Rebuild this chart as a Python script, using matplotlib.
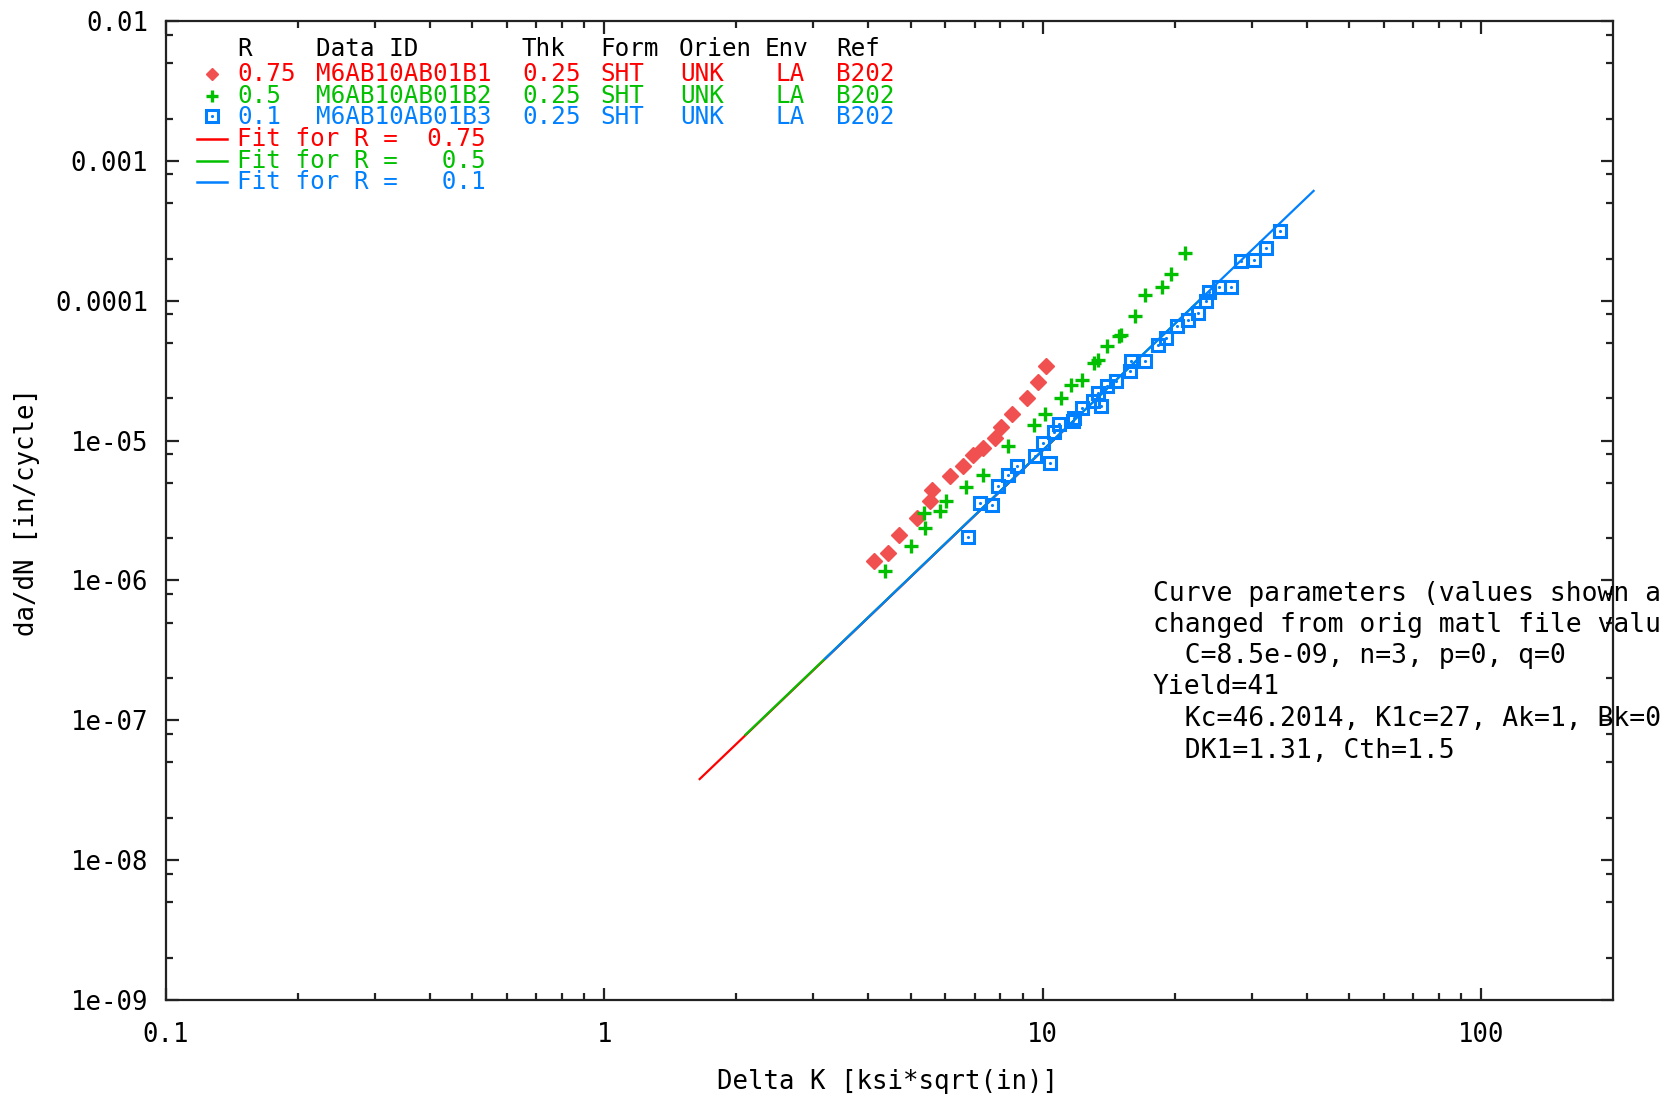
import numpy as np
import matplotlib.pyplot as plt
from matplotlib.ticker import FixedLocator, FixedFormatter, NullFormatter

plt.rcParams['font.family'] = ['DejaVu Sans Mono']

# colours (gnuplot defaults)
red = '#ff0000'
green = '#00c000'
blue = '#0080ff'

# data: Delta K [ksi*sqrt(in)], da/dN [in/cycle]
dk_r075 = [4.12, 4.44, 4.69, 5.16, 5.52, 5.59, 6.15, 6.59, 6.95, 7.30, 7.79, 8.03, 8.49, 9.19, 9.77, 10.17]
da_r075 = [1.37e-6, 1.57e-6, 2.12e-6, 2.80e-6, 3.67e-6, 4.41e-6, 5.55e-6, 6.54e-6, 7.93e-6, 8.85e-6,
           1.04e-5, 1.25e-5, 1.56e-5, 2.02e-5, 2.61e-5, 3.39e-5]

dk_r05 = [4.37, 5.01, 5.39, 5.35, 5.84, 6.02, 6.69, 7.30, 8.35, 9.57, 10.1, 10.99, 11.6, 12.3, 13.1, 13.4,
          14.0, 14.9, 15.1, 16.2, 17.1, 18.7, 19.6, 21.1]
da_r05 = [1.16e-6, 1.77e-6, 2.37e-6, 3.04e-6, 3.12e-6, 3.72e-6, 4.62e-6, 5.70e-6, 9.20e-6, 1.30e-5, 1.56e-5,
          2.02e-5, 2.51e-5, 2.72e-5, 3.59e-5, 3.74e-5, 4.71e-5, 5.55e-5, 5.71e-5, 7.73e-5, 1.09e-4, 1.25e-4,
          1.54e-4, 2.19e-4]

dk_r01 = [6.77, 7.20, 7.65, 7.92, 8.35, 8.72, 9.60, 10.0, 10.4, 10.6, 10.9, 11.7, 11.8, 12.3, 13.0, 13.6,
          13.4, 14.0, 14.7, 15.8, 15.9, 17.1, 18.3, 19.1, 20.3, 21.4, 22.6, 23.6, 24.0, 25.3, 26.9, 28.4,
          30.4, 32.4, 34.7]
da_r01 = [2.03e-6, 3.58e-6, 3.44e-6, 4.71e-6, 5.70e-6, 6.54e-6, 7.80e-6, 9.62e-6, 6.92e-6, 1.16e-5, 1.32e-5,
          1.37e-5, 1.45e-5, 1.71e-5, 1.91e-5, 1.78e-5, 2.19e-5, 2.44e-5, 2.65e-5, 3.12e-5, 3.68e-5, 3.73e-5,
          4.85e-5, 5.41e-5, 6.55e-5, 7.31e-5, 8.17e-5, 9.88e-5, 1.16e-4, 1.26e-4, 1.26e-4, 1.91e-4, 1.96e-4,
          2.38e-4, 3.13e-4]

# fit line end points
fit_dk_r075 = [1.65, 11.5]
fit_da_r075 = [3.8e-8, 1.29e-5]
fit_dk_r05 = [2.1, 23.1]
fit_da_r05 = [7.9e-8, 1.05e-4]
fit_dk_r01 = [3.19, 41.5]
fit_da_r01 = [2.76e-7, 6.1e-4]

xticks = [0.1, 1, 10, 100]
xticklabels = ['0.1', '1', '10', '100']
yticks = [1e-9, 1e-8, 1e-7, 1e-6, 1e-5, 1e-4, 1e-3, 1e-2]
yticklabels = ['1e-09', '1e-08', '1e-07', '1e-06', '1e-05', '0.0001', '0.001', '0.01']

legend_header = ['R', 'Data ID', 'Thk', 'Form', 'Orien', 'Env', 'Ref']
legend_rows = [
    ['0.75', 'M6AB10AB01B1', '0.25', 'SHT', 'UNK', 'LA', 'B202'],
    ['0.5', 'M6AB10AB01B2', '0.25', 'SHT', 'UNK', 'LA', 'B202'],
    ['0.1', 'M6AB10AB01B3', '0.25', 'SHT', 'UNK', 'LA', 'B202'],
]
fit_labels = ['Fit for R =  0.75', 'Fit for R =   0.5', 'Fit for R =   0.1']

params_text = ['Curve parameters (values shown are',
               'changed from orig matl file values)',
               '  C=8.5e-09, n=3, p=0, q=0',
               'Yield=41',
               '  Kc=46.2014, K1c=27, Ak=1, Bk=0',
               '  DK1=1.31, Cth=1.5']

W, H = 1660, 1094
fig = plt.figure(figsize=(W / 100, H / 100), dpi=100)
ax = fig.add_axes([166 / W, 1 - 1000 / H, (1613 - 166) / W, (1000 - 21) / H])
ax.set_xscale('log')
ax.set_yscale('log')
ax.set_xlim(0.1, 200)
ax.set_ylim(1e-9, 1e-2)


def px(x, y):
    return x / W, 1 - y / H


# fits (drawn in this order so blue is on top)
ax.plot(fit_dk_r075, fit_da_r075, color=red, lw=1.6)
ax.plot(fit_dk_r05, fit_da_r05, color=green, lw=1.6)
ax.plot(fit_dk_r01, fit_da_r01, color=blue, lw=1.6)

# data
ax.plot(dk_r075, da_r075, 'D', color='#f05050', ms=8, mec='#f05050', ls='none')
ax.plot(dk_r05, da_r05, '+', color=green, ms=10, mew=2.4, ls='none')
ax.plot(dk_r01, da_r01, 's', mfc='none', mec=blue, ms=9, mew=2.2, ls='none')
ax.plot(dk_r01, da_r01, '.', color=blue, ms=2.5, ls='none')

# axes styling
for s in ax.spines.values():
    s.set_linewidth(1.6)
    s.set_color('#222222')
ax.xaxis.set_major_locator(FixedLocator(xticks))
ax.xaxis.set_major_formatter(FixedFormatter(xticklabels))
ax.xaxis.set_minor_locator(FixedLocator([m * d for d in [0.1, 1, 10, 100] for m in range(2, 10)
                                         if m * d < 200]))
ax.xaxis.set_minor_formatter(NullFormatter())
ax.yaxis.set_major_locator(FixedLocator(yticks))
ax.yaxis.set_major_formatter(FixedFormatter(yticklabels))
ax.yaxis.set_minor_locator(FixedLocator([m * d for d in yticks[:-1] for m in (2, 5, 8)]))
ax.yaxis.set_minor_formatter(NullFormatter())
ax.tick_params(which='both', direction='in', top=True, right=True, color='#222222', width=1.6)
ax.tick_params(which='major', length=9)
ax.tick_params(which='minor', length=5)
ax.tick_params(axis='x', which='major', labelsize=18.5, pad=16)
ax.tick_params(axis='y', which='major', labelsize=18.5, pad=13)

fig.text(*px(887, 1082), 'Delta K [ksi*sqrt(in)]', fontsize=18.5, ha='center', va='center')
fig.text(*px(27, 512), 'da/dN [in/cycle]', fontsize=18.5, ha='center', va='center', rotation=90)

# legend, built by hand like gnuplot's key
fs_key = 17.5
col_x = [237, 315.5, 522, 600, 678.6, 765, 836.4]
row_col_x = [237, 315.5, 522, 600, 680.7, 775, 836.4]
for xx, t in zip(col_x, legend_header):
    fig.text(*px(xx, 48.7), t, fontsize=fs_key, ha='left', va='center', color='black')

row_y = [74.1, 96.3, 117.5]
row_colors = [red, green, blue]
for yy, c, row in zip(row_y, row_colors, legend_rows):
    for xx, t in zip(row_col_x, row):
        fig.text(*px(xx, yy), t, fontsize=fs_key, ha='left', va='center', color=c)

ax.plot([211.7 / W], [1 - 74.1 / H], 'D', color='#f05050', ms=6.5, transform=fig.transFigure, clip_on=False)
ax.plot([211.7 / W], [1 - 96.3 / H], '+', color=green, ms=9, mew=2.4, transform=fig.transFigure, clip_on=False)
ax.plot([211.7 / W], [1 - 115.5 / H], 's', mfc='none', mec=blue, ms=8, mew=2.2,
        transform=fig.transFigure, clip_on=False)
ax.plot([211.7 / W], [1 - 115.5 / H], '.', color=blue, ms=2.5, transform=fig.transFigure, clip_on=False)

fit_y = [138.7, 160.9, 182]
for yy, c, t in zip(fit_y, row_colors, fit_labels):
    ax.plot([197 / W, 226.5 / W], [1 - yy / H, 1 - yy / H], color=c, lw=1.8,
            transform=fig.transFigure, clip_on=False)
    fig.text(*px(237, yy), t, fontsize=fs_key, ha='left', va='center', color=c)

# curve parameter notes (run past the right edge, as in the original)
note_y = [594, 624.6, 656.4, 687, 719, 750.6]
for yy, t in zip(note_y, params_text):
    fig.text(*px(1153, yy), t, fontsize=19, ha='left', va='center', color='black')

fig.savefig('out.png', dpi=100)
